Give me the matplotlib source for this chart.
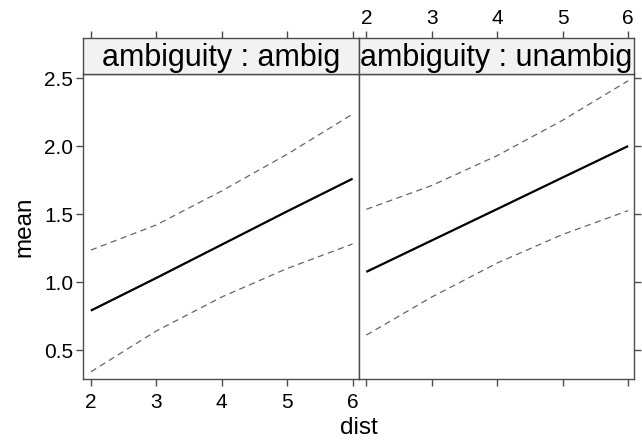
import matplotlib
matplotlib.use("Agg")
import matplotlib.pyplot as plt

plt.rcParams["font.family"] = ["Liberation Sans", "DejaVu Sans"]

# effect of dist on mean, by ambiguity level
dist = [2, 3, 4, 5, 6]
panels = ["ambig", "unambig"]
fit = {
    "ambig":   [0.79, 1.03, 1.275, 1.52, 1.76],
    "unambig": [1.075, 1.306, 1.537, 1.769, 2.00],
}
upper = {
    "ambig":   [1.235, 1.42, 1.67, 1.94, 2.235],
    "unambig": [1.535, 1.71, 1.93, 2.19, 2.48],
}
lower = {
    "ambig":   [0.34, 0.64, 0.89, 1.10, 1.28],
    "unambig": [0.61, 0.89, 1.14, 1.35, 1.525],
}
y_ticks = [0.5, 1.0, 1.5, 2.0, 2.5]
x_ticks = [2, 3, 4, 5, 6]

W, H = 642, 444
fig = plt.figure(figsize=(W / 100, H / 100), dpi=100)

EDGE = "#4d4d4d"
TICK_FS = 15
LAB_FS = 17.5
STRIP_FS = 22
TICK_LEN = 5

px_left, px_mid, px_right = 83, 358.5, 634
py_strip_top, py_panel_top, py_panel_bot = 38, 74, 379


def frac_box(x0, x1, ytop, ybot):
    return [x0 / W, 1 - ybot / H, (x1 - x0) / W, (ybot - ytop) / H]


for i, name in enumerate(panels):
    x0 = px_left if i == 0 else px_mid
    x1 = px_mid if i == 0 else px_right
    ax = fig.add_axes(frac_box(x0, x1, py_panel_top, py_panel_bot))
    strip = fig.add_axes(frac_box(x0, x1, py_strip_top, py_panel_top))

    ax.plot(dist, fit[name], color="black", lw=1.6, solid_capstyle="butt")
    for band in (upper, lower):
        ax.plot(dist, band[name], color="#666666", lw=0.9, dashes=(5, 3.5))

    ax.set_xlim(1.88, 6.09)
    ax.set_ylim(0.287, 2.53)
    for s in ax.spines.values():
        s.set_color(EDGE)
        s.set_linewidth(1.0)

    ax.set_xticks(x_ticks)
    ax.set_yticks(y_ticks)
    ax.tick_params(direction="out", length=TICK_LEN, width=1, color=EDGE,
                   labelsize=TICK_FS)
    ax.tick_params(axis="x", pad=5)
    ax.tick_params(axis="y", pad=2)
    if i == 0:
        ax.set_yticklabels([f"{v:.1f}" for v in y_ticks])
        ax.set_ylabel("mean", fontsize=LAB_FS, labelpad=6)
    else:
        ax.set_xticklabels([])
        ax.yaxis.tick_right()
        ax.set_yticklabels([])

    # strip with the conditioning level; lattice puts the top ticks above it
    strip.set_facecolor("#f2f2f2")
    strip.set_xlim(1.88, 6.09)
    strip.set_ylim(0, 1)
    strip.set_yticks([])
    for s in strip.spines.values():
        s.set_color(EDGE)
        s.set_linewidth(1.0)
    strip.xaxis.tick_top()
    strip.set_xticks(x_ticks)
    strip.tick_params(direction="out", length=TICK_LEN, width=1, color=EDGE,
                      labelsize=TICK_FS, pad=2.5)
    if i == 0:
        strip.set_xticklabels([])
    strip.text(0.5, 0.45, f"ambiguity : {name}", transform=strip.transAxes,
               ha="center", va="center", fontsize=STRIP_FS)

fig.text(px_mid / W, 1 - 428 / H, "dist", ha="center", va="center",
         fontsize=LAB_FS)

fig.savefig("out.png", dpi=100)
